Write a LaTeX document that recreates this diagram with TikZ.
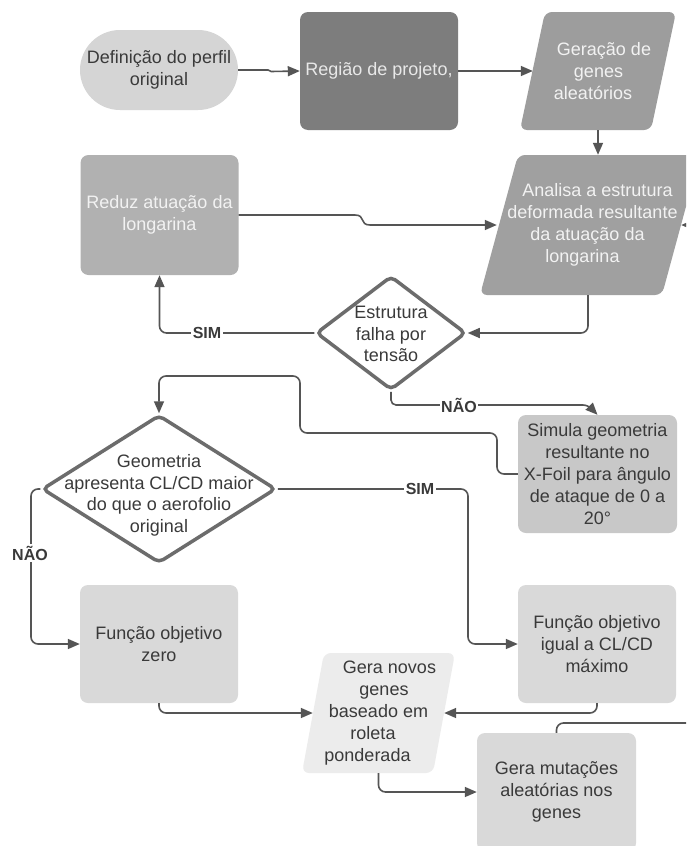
\documentclass[tikz,border=0pt]{standalone}
\usepackage{fontspec}
\setmainfont{Liberation Sans}
\usetikzlibrary{shapes.geometric, arrows.meta}

\definecolor{cLine}{HTML}{555555}
\definecolor{cDia}{HTML}{6C6C6C}
\definecolor{cDark}{HTML}{3A3A3A}
\definecolor{cDef}{HTML}{D5D5D5}
\definecolor{cReg}{HTML}{7D7D7D}
\definecolor{cRegT}{HTML}{E8E8E8}
\definecolor{cGer}{HTML}{9D9D9D}
\definecolor{cAna}{HTML}{A0A0A0}
\definecolor{cRed}{HTML}{B1B1B1}
\definecolor{cLight}{HTML}{F2F2F2}
\definecolor{cSim}{HTML}{C8C8C8}
\definecolor{cFun}{HTML}{D9D9D9}
\definecolor{cGen}{HTML}{ECECEC}

% one text line shifted sideways (follows the slant of a parallelogram)
\newcommand\shl[2]{\hbox{\kern#1pt#2\kern-#1pt}}
% centred text of zero size, so a diamond keeps its own dimensions
\newcommand\dtext[2]{\makebox[0pt]{\raisebox{#1}[0pt][0pt]{\begin{tabular}{@{}c@{}}#2\end{tabular}}}}

\tikzset{
  base/.style={inner sep=0pt, align=center, font=\fontsize{18}{21.8}\selectfont},
  boxstd/.style={base, rectangle, rounded corners=8pt, minimum width=158pt, minimum height=118pt},
  para/.style 2 args={base, rectangle, path picture={
      \fill[#2, rounded corners=7pt]
        ([xshift=#1]path picture bounding box.north west) --
        (path picture bounding box.north east) --
        ([xshift=-#1]path picture bounding box.south east) --
        (path picture bounding box.south west) -- cycle;}},
  dia/.style={base, shape=diamond, draw=cDia, line width=3.5pt, fill=white,
      rounded corners=5pt, text=cDark},
  conn/.style={draw=cLine, line width=1.6pt, rounded corners=7pt},
  arr/.style={conn, -{Triangle[length=12pt,width=10pt]}},
  lbl/.style={font=\fontsize{16}{18}\selectfont\bfseries, text=cDark, fill=white, inner sep=1.5pt},
}

\begin{document}
\begin{tikzpicture}[x=1pt, y=-1pt]
\fill[white] (0,0) rectangle (686,846);
\path[use as bounding box, clip] (0,0) rectangle (686,846);

% ---- process steps ----
\node[base, fill=cDef, text=cDark, rounded corners=40pt, minimum width=158pt, minimum height=80pt]
  (def) at (159,70) {Definição do perfil\\original};
\node[boxstd, fill=cReg, text=cRegT] (reg) at (379,71) {Região de projeto,};
\node[para={25pt}{cGer}, minimum width=156pt, minimum height=118pt, text=cLight]
  (ger) at (598,71) {\shl{6}{Geração de}\\\shl{0.5}{genes}\\\shl{-5}{aleatórios}};
\node[para={38pt}{cAna}, minimum width=220pt, minimum height=140pt, text=cLight]
  (ana) at (590,225) {\shl{7.5}{Analisa a estrutura}\\\shl{2.5}{deformada resultante}\\\shl{-2.5}{da atuação da}\\\shl{-7.5}{longarina}};
\node[boxstd, fill=cRed, text=cLight, minimum height=120pt] (red) at (159.5,215) {Reduz atuação da\\longarina};
\node[dia, minimum width=150pt, minimum height=114pt] (d1) at (391,333)
  {\dtext{-7pt}{Estrutura\\falha por\\tensão}};
\node[boxstd, fill=cSim, text=cDark, minimum width=159pt] (sim) at (597.5,474)
  {Simula geometria\\resultante no\\X-Foil para ângulo\\de ataque de 0 a\\20°};
\node[dia, minimum width=234pt, minimum height=148pt] (d2) at (159,489)
  {\dtext{-11pt}{Geometria\\apresenta CL/CD maior\\do que o aerofolio\\original}};
\node[boxstd, fill=cFun, text=cDark] (fzero) at (159,644) {Função objetivo\\zero};
\node[boxstd, fill=cFun, text=cDark] (figual) at (597,644) {Função objetivo\\igual a CL/CD\\máximo};
\node[para={22pt}{cGen}, minimum width=153pt, minimum height=120pt, text=cDark]
  (gn) at (378.5,713) {\shl{11}{Gera novos}\\\shl{5.5}{genes}\\\shl{0}{baseado em}\\\shl{-5.5}{roleta}\\\shl{-11}{ponderada}};
\node[boxstd, fill=cFun, text=cDark, minimum width=159pt] (mut) at (556.5,792)
  {Gera mutações\\aleatórias nos\\genes};

\coordinate (out1) at (700,723);
\coordinate (in1) at (700,225);

% ---- connectors ----
\draw[arr, sharp corners] (def.east) -- ++(30,0) -- ++(3,1.5) -- (reg.west);
\draw[arr] (reg.east) -- ([xshift=13pt]ger.west);
\draw[arr] (ger.south) -- (ger.south |- ana.north);
\draw[arr, sharp corners] (red.east) -- (355,215) .. controls (366,215) and (359,225) .. (370,225)
  -- ([xshift=17pt]ana.west);
\draw[arr] (in1) -- ([xshift=-19pt]ana.east);
\draw[arr] ([xshift=-2pt]ana.south) |- (d1.east);
\draw[arr] (d1.west) -| (red.south);
\draw[arr, rounded corners=5pt] (d1.south) |- (588,405) -- (sim.north);
\draw[arr] (sim.west) -- (497,474) -- (497,433) -- (300,433) -- (300,376) -- (159,376) -- (d2.north);
\draw[arr] (d2.east) -- (468,489) -- (468,644) -- (figual.west);
\draw[arr] (d2.west) -- (31,489) -- (31,644) -- (fzero.west);
\draw[arr] (fzero.south) |- ([xshift=11pt]gn.west);
\draw[arr] (figual.south) |- ([xshift=-11pt]gn.east);
\draw[arr] (gn.south) |- (mut.west);
\draw[conn] (mut.north) |- (out1);

% ---- branch labels ----
\node[lbl] (sim1) at (207,333) {SIM};
\node[lbl] (nao1) at (459,405) {NÃO};
\node[lbl] (sim2) at (420,489) {SIM};
\node[lbl] (nao2) at (30,553) {NÃO};
\end{tikzpicture}
\end{document}
